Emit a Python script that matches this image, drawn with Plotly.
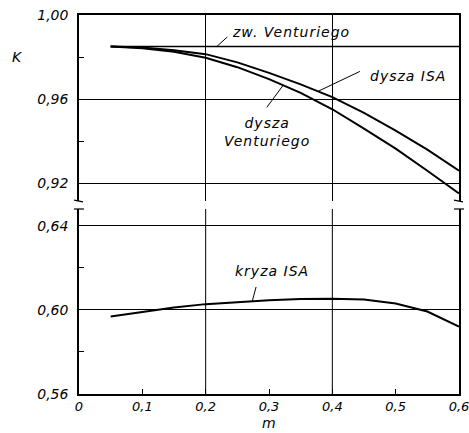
import plotly.graph_objects as go

# ---- data ----
m_vals = [0.05, 0.10, 0.15, 0.20, 0.25, 0.30, 0.35, 0.40, 0.45, 0.50, 0.55, 0.60]
k_dysza_isa = [0.985, 0.9845, 0.9833, 0.9814, 0.9775, 0.9725, 0.9670, 0.9610, 0.9535, 0.9450, 0.9360, 0.9260]
k_dysza_venturi = [0.985, 0.9842, 0.9825, 0.9797, 0.9752, 0.9695, 0.9630, 0.9552, 0.9460, 0.9365, 0.9260, 0.9152]
k_zw_venturi = [0.985, 0.985, 0.985, 0.985, 0.985, 0.985, 0.985, 0.985, 0.985, 0.985, 0.985, 0.985]
k_kryza_isa = [0.5968, 0.5991, 0.6011, 0.6027, 0.6038, 0.6046, 0.6051, 0.6053, 0.6049, 0.6030, 0.5992, 0.5920]

x_ticks = [0, 0.1, 0.2, 0.3, 0.4, 0.5, 0.6]
x_ticktext = ["0", "0,1", "0,2", "0,3", "0,4", "0,5", "0,6"]
y_top_ticks = [0.92, 0.96, 1.00]
y_top_ticktext = ["0,92", "0,96", "1,00"]
y_bot_ticks = [0.56, 0.60, 0.64]
y_bot_ticktext = ["0,56", "0,60", "0,64"]

FONT = "DejaVu Sans"
tickfont = dict(family=FONT, size=14, color="black", style="italic")
xtickfont = dict(family=FONT, size=13, color="black", style="italic")

fig = go.Figure()
line = dict(color="black", width=2)
fig.add_trace(go.Scatter(x=m_vals, y=k_zw_venturi, mode="lines", line=dict(color="black", width=1.6), xaxis="x2", yaxis="y2"))
fig.add_trace(go.Scatter(x=m_vals, y=k_dysza_isa, mode="lines", line=line, xaxis="x2", yaxis="y2"))
fig.add_trace(go.Scatter(x=m_vals, y=k_dysza_venturi, mode="lines", line=line, xaxis="x2", yaxis="y2"))
fig.add_trace(go.Scatter(x=m_vals, y=k_kryza_isa, mode="lines", line=line, xaxis="x", yaxis="y"))

fig.update_layout(
    width=469, height=433,
    margin=dict(l=79, r=10, t=15, b=39, autoexpand=False),
    paper_bgcolor="white", plot_bgcolor="white",
    showlegend=False,
    xaxis=dict(domain=[0, 1], range=[0, 0.6], anchor="y", automargin=False,
               tickvals=x_ticks, ticktext=x_ticktext, tickfont=xtickfont,
               ticks="inside", ticklen=5, tickcolor="black", tickwidth=1,
               showline=True, linecolor="black", linewidth=1.5,
               showgrid=False, zeroline=False, ticklabeloverflow="allow"),
    yaxis=dict(domain=[0, 185/379], range=[0.56, 0.6479], anchor="x", automargin=False,
               tickvals=y_bot_ticks, ticktext=y_bot_ticktext, tickfont=tickfont,
               ticks="", showline=True, mirror=True, linecolor="black", linewidth=1.5,
               showgrid=True, gridcolor="black", gridwidth=1, zeroline=False,
               ticklabelstandoff=6, ticklabeloverflow="allow",
               minor=dict(tickvals=[0.58, 0.62], ticks="inside", ticklen=5, tickcolor="black", showgrid=False)),
    xaxis2=dict(domain=[0, 1], range=[0, 0.6], anchor="y2", side="top", automargin=False,
                tickvals=[0.2, 0.4], showticklabels=False, ticks="",
                showline=True, linecolor="black", linewidth=1.5,
                showgrid=True, gridcolor="black", gridwidth=1, zeroline=False),
    yaxis2=dict(domain=[193/379, 1], range=[0.9116, 1.0], anchor="x2", automargin=False,
                tickvals=y_top_ticks, ticktext=y_top_ticktext, tickfont=tickfont,
                ticks="", showline=True, mirror=True, linecolor="black", linewidth=1.5,
                showgrid=True, gridcolor="black", gridwidth=1, zeroline=False,
                ticklabelstandoff=6, ticklabeloverflow="allow",
                minor=dict(tickvals=[0.94, 0.98], ticks="inside", ticklen=5, tickcolor="black", showgrid=False)),
)

# vertical grid lines in lower panel
for xv in [0.2, 0.4]:
    fig.add_shape(type="line", xref="x", yref="y domain", x0=xv, x1=xv, y0=0, y1=1,
                  line=dict(color="black", width=1), layer="below")

# axis break marks
for xa in [0, 1]:
    fig.add_shape(type="line", xref="x domain", yref="y2 domain", xsizemode="pixel", xanchor=xa,
                  x0=-5, x1=4, y0=0.005, y1=-0.005, line=dict(color="black", width=1.2))
    fig.add_shape(type="line", xref="x domain", yref="y domain", xsizemode="pixel", xanchor=xa,
                  x0=-5, x1=5, y0=1, y1=1, line=dict(color="black", width=1.2))

annfont = dict(family=FONT, size=14, color="black", style="italic")
def sp(t):
    return '<span style="letter-spacing:1px">' + t + '</span>'

texts = [
    dict(text=sp("zw. Venturiego"), x=0.3348, y=0.9918, xref="x2", yref="y2"),
    dict(text=sp("dysza ISA"), x=0.5195, y=0.9709, xref="x2", yref="y2"),
    dict(text=sp("dysza") + "<br>" + sp("Venturiego"), x=0.2969, y=0.9444, xref="x2", yref="y2"),
    dict(text=sp("kryza ISA"), x=0.3048, y=0.6185, xref="x", yref="y"),
]
for t in texts:
    fig.add_annotation(showarrow=False, font=annfont, xanchor="center", yanchor="middle", **t)

leaders = [
    dict(x=0.2175, y=0.985, ax=11, ay=-10, xref="x2", yref="y2"),
    dict(x=0.378, y=0.9638, ax=42, ay=-20, xref="x2", yref="y2"),
    dict(x=0.3226, y=0.9667, ax=-17, ay=23, xref="x2", yref="y2"),
    dict(x=0.2737, y=0.6042, ax=4, ay=-15, xref="x", yref="y"),
]
for l in leaders:
    fig.add_annotation(text=" ", showarrow=True, arrowhead=0, arrowwidth=1, arrowcolor="black",
                       font=dict(size=1), borderpad=0, standoff=0, **l)

fig.add_annotation(text="K", xref="paper", yref="y2", x=(17-79)/380, y=0.98,
                   showarrow=False, font=annfont, xanchor="center", yanchor="middle")
fig.add_annotation(text="m", xref="x", yref="paper", x=0.3, y=-39/379,
                   showarrow=False, font=annfont, xanchor="center", yanchor="bottom")

fig.write_html("out.html", config={"displayModeBar": False},
               post_script="document.body.style.margin='0px';")
